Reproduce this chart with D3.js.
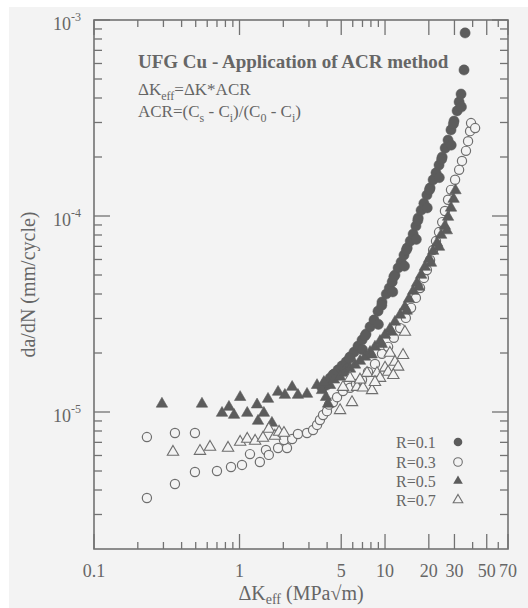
<!DOCTYPE html>
<html><head><meta charset="utf-8">
<script src="https://cdn.jsdelivr.net/npm/d3@7"></script>
<style>html,body{margin:0;padding:0;background:#fff;} svg{display:block}</style>
</head><body><svg id="c" width="528" height="608"></svg>
<script>
// ---------- DATA ----------
const r01K = [3.69,3.93,4.19,4.46,4.75,5.06,5.40,5.75,6.12,6.52,6.95,7.40,7.89,8.40,8.95,9.53,10.2,10.7,11.2,11.7,12.3,12.9,13.5,14.2,14.9,15.6,16.3,16.9,17.7,18.5,19.4,20.4,21.4,22.4,23.5,24.7,25.9,27.1,28.4,29.8,31.3,32.3,33.3,34.9,35.5,
  3.95,4.4,5.5,5.7,7.0,7.3,9.0,9.5,11.3,11.5,13.6,14.0,16.4,16.8,19.5,20.2,23.6,24.5,28.5,29.5,33.5];
const r01da = [1.33e-5,1.41e-5,1.49e-5,1.56e-5,1.64e-5,1.72e-5,1.80e-5,1.91e-5,2.02e-5,2.17e-5,2.33e-5,2.50e-5,2.72e-5,2.95e-5,3.27e-5,3.64e-5,4.0e-5,4.29e-5,4.61e-5,5.0e-5,5.43e-5,5.82e-5,6.32e-5,6.87e-5,7.45e-5,8.09e-5,8.89e-5,9.77e-5,1.07e-4,1.16e-4,1.28e-4,1.39e-4,1.53e-4,1.66e-4,1.82e-4,2.0e-4,2.22e-4,2.44e-4,2.75e-4,3.05e-4,3.44e-4,3.82e-4,4.19e-4,5.56e-4,8.59e-4,
  1.37e-5,1.55e-5,1.66e-5,1.88e-5,2.08e-5,2.45e-5,2.8e-5,3.5e-5,4.1e-5,4.9e-5,5.55e-5,6.7e-5,7.6e-5,9.5e-5,1.1e-4,1.36e-4,1.57e-4,1.95e-4,2.3e-4,2.95e-4,3.6e-4];

const r03K = [0.231,0.360,0.494,0.231,0.360,0.494,0.700,0.874,1.04,1.18,1.38,1.52,1.59,1.84,2.12,2.02,2.30,2.52,2.91,3.20,3.41,3.57,3.75,3.99,4.12,4.39,4.68,5.14,5.75,6.32,6.95,7.64,8.53,9.53,10.5,11.5,12.7,13.9,15.1,16.3,17.4,18.5,19.4,20.4,21.4,22.4,23.5,24.7,25.8,27.1,28.4,30.3,32.3,33.8,36.0,37.2,38.4,39.0,41.6];
const r03da = [7.45e-6,7.81e-6,7.81e-6,3.64e-6,4.29e-6,4.94e-6,5.0e-6,5.24e-6,5.37e-6,6.10e-6,5.56e-6,6.40e-6,6.04e-6,6.55e-6,6.55e-6,7.20e-6,7.28e-6,7.72e-6,7.81e-6,8.09e-6,8.59e-6,9.10e-6,9.65e-6,1.01e-5,1.09e-5,1.12e-5,1.19e-5,1.28e-5,1.33e-5,1.39e-5,1.46e-5,1.60e-5,1.76e-5,1.98e-5,2.15e-5,2.39e-5,2.68e-5,3.02e-5,3.40e-5,3.82e-5,4.29e-5,4.83e-5,5.30e-5,5.97e-5,6.71e-5,7.45e-5,8.28e-5,9.31e-5,1.06e-4,1.21e-4,1.36e-4,1.53e-4,1.72e-4,1.91e-4,2.15e-4,2.41e-4,2.71e-4,2.98e-4,2.81e-4];

const r05K = [0.293,0.552,0.758,0.846,0.917,1.01,1.13,1.32,1.34,1.47,1.57,1.67,1.84,2.05,2.30,2.52,2.91,3.41,3.69,3.93,4.06,4.19,4.46,3.80,
  4.91,5.31,5.75,6.22,6.73,7.29,7.89,8.53,9.24,10.0,10.8,11.7,12.7,13.7,14.6,15.6,16.6,17.7,18.8,20.1,21.4,22.8,24.3,25.8,27.1,28.4,
  11.1,14.1,17.1,20.7,23.5,26.6,8.1,9.5,29.6,30.5];
const r05da = [1.10e-5,1.10e-5,9.88e-6,1.06e-5,9.65e-6,1.19e-5,9.88e-6,1.09e-5,9.0e-6,9.88e-6,1.165e-5,8.79e-6,1.265e-5,1.22e-5,1.34e-5,1.22e-5,1.235e-5,1.37e-5,1.29e-5,1.19e-5,1.10e-5,1.37e-5,1.46e-5,1.42e-5,
  1.51e-5,1.58e-5,1.66e-5,1.74e-5,1.82e-5,1.91e-5,2.02e-5,2.15e-5,2.30e-5,2.47e-5,2.65e-5,2.88e-5,3.13e-5,3.43e-5,3.77e-5,4.14e-5,4.55e-5,5.0e-5,5.49e-5,6.04e-5,6.63e-5,7.28e-5,8.0e-5,8.89e-5,9.88e-5,1.10e-4,
  2.56e-5,3.28e-5,4.34e-5,5.76e-5,6.95e-5,8.43e-5,1.96e-5,2.22e-5,1.22e-4,1.35e-4];

const r07K = [0.349,0.535,0.627,0.834,1.01,1.13,1.28,1.45,1.59,1.75,1.87,2.02,5.14,4.91,5.93,5.75,6.42,7.06,7.52,8.14,8.81,9.24,10.0,10.8,11.7,12.3,13.3,13.7,6.73,10.5,11.4,8.53];
const r07da = [6.25e-6,6.32e-6,6.63e-6,6.55e-6,7.03e-6,7.28e-6,7.11e-6,7.37e-6,8.19e-6,7.54e-6,7.91e-6,7.81e-6,1.34e-5,1.02e-5,1.12e-5,1.49e-5,1.34e-5,1.33e-5,1.58e-5,1.29e-5,1.58e-5,1.49e-5,1.68e-5,2.0e-5,1.80e-5,1.70e-5,1.95e-5,2.56e-5,1.46e-5,1.60e-5,1.54e-5,1.42e-5];

const legendLabels = ["R=0.1","R=0.3","R=0.5","R=0.7"];
const xTickVals = [0.1,1,5,10,20,30,50,70];
const xTickLabels = ["0.1","1","5","10","20","30","50","70"];
const xMinorVals = [0.2,0.3,0.4,0.5,0.6,0.7,0.8,0.9,2,3,4,6,7,8,9,40,60];
const yTickVals = [1e-5,1e-4,1e-3];
const yTickExps = ["-5","-4","-3"];
const yMinorVals = [3e-6,4e-6,5e-6,6e-6,7e-6,8e-6,9e-6,2e-5,3e-5,4e-5,5e-5,6e-5,7e-5,8e-5,9e-5,2e-4,3e-4,4e-4,5e-4,6e-4,7e-4,8e-4,9e-4];

// ---------- CHART ----------
const W = 528, H = 608;
const L = 94, R = 508, T = 20, B = 549;
const FONT = '"Liberation Serif","Times New Roman",serif';
const TXT = "#666", AX = "#727272", DARK = "#5c5c5c", BG = "#f3f3f3";

const svg = d3.select("#c");
svg.append("rect").attr("x",9).attr("y",7).attr("width",W-9).attr("height",H-7).attr("fill",BG);

const x = d3.scaleLog().domain([0.1,70]).range([L,R]);
const y = d3.scaleLog().domain([2e-6,1e-3]).range([B,T]);

const g = svg.append("g");
const tk = g.append("g").attr("stroke",AX).attr("stroke-width",1.3);
function xt(v,len){
  tk.append("line").attr("x1",x(v)).attr("x2",x(v)).attr("y1",B).attr("y2",B-len);
  tk.append("line").attr("x1",x(v)).attr("x2",x(v)).attr("y1",T).attr("y2",T+len);
}
function yt(v,len){
  tk.append("line").attr("y1",y(v)).attr("y2",y(v)).attr("x1",L).attr("x2",L+len);
  tk.append("line").attr("y1",y(v)).attr("y2",y(v)).attr("x1",R).attr("x2",R-len);
}
xTickVals.forEach(v=>xt(v,15));
xMinorVals.forEach(v=>xt(v,7));
yTickVals.forEach(v=>yt(v,16));
yMinorVals.forEach(v=>yt(v,8));

g.append("rect").attr("x",L).attr("y",T).attr("width",R-L).attr("height",B-T)
  .attr("fill","none").attr("stroke",AX).attr("stroke-width",1.6);

g.append("g").selectAll("text").data(xTickVals).join("text")
  .attr("x",d=>x(d)).attr("y",577).attr("text-anchor","middle")
  .attr("font-family",FONT).attr("font-size",18).attr("fill",TXT)
  .text((d,i)=>xTickLabels[i]);

yTickVals.forEach((v,i)=>{
  const t = g.append("text").attr("x",53).attr("y",y(v)+10)
    .attr("font-family",FONT).attr("font-size",18).attr("fill",TXT);
  t.append("tspan").text("10");
  t.append("tspan").attr("dy",-9).attr("font-size",12).text(yTickExps[i]);
});

const xl = g.append("text").attr("x",(L+R)/2).attr("y",600).attr("text-anchor","middle")
  .attr("font-family",FONT).attr("font-size",20).attr("fill",TXT);
xl.append("tspan").text("ΔK");
xl.append("tspan").attr("dy",4).attr("font-size",14).text("eff");
xl.append("tspan").attr("dy",-4).text(" (MPa√m)");

g.append("text").attr("transform",`translate(35,${(T+B)/2}) rotate(-90)`)
  .attr("text-anchor","middle").attr("font-family",FONT).attr("font-size",20).attr("fill",TXT)
  .text("da/dN (mm/cycle)");

g.append("text").attr("x",138).attr("y",68).attr("font-family",FONT).attr("font-size",19)
  .attr("font-weight","bold").attr("fill",TXT).text("UFG Cu - Application of ACR method");
const a1 = g.append("text").attr("x",138).attr("y",95).attr("font-family",FONT).attr("font-size",17).attr("fill",TXT);
a1.append("tspan").text("ΔK");
a1.append("tspan").attr("dy",5).attr("font-size",12).text("eff");
a1.append("tspan").attr("dy",-5).text("=ΔK*ACR");
const a2 = g.append("text").attr("x",138).attr("y",117).attr("font-family",FONT).attr("font-size",17).attr("fill",TXT);
[["ACR=(C",0],["s",1],[" - C",0],["i",1],[")/(C",0],["0",1],[" - C",0],["i",1],[")",0]].forEach((p,i,arr)=>{
  const prevSub = i>0 && arr[i-1][1]===1;
  const ts = a2.append("tspan").text(p[0]);
  if (p[1]===1) ts.attr("dy",5).attr("font-size",12);
  else if (prevSub) ts.attr("dy",-5);
});

const pts = g.append("g");
function circles(K,D,filled,r){
  pts.append("g").selectAll("circle").data(K.map((k,i)=>[k,D[i]])).join("circle")
    .attr("cx",d=>x(d[0])).attr("cy",d=>y(d[1])).attr("r",r)
    .attr("fill",filled?DARK:BG).attr("stroke",filled?DARK:"#6e6e6e").attr("stroke-width",filled?0.5:1.2);
}
const tri = d3.symbol().type(d3.symbolTriangle).size(56);
function triangles(K,D,filled){
  pts.append("g").selectAll("path").data(K.map((k,i)=>[k,D[i]])).join("path")
    .attr("d",tri).attr("transform",d=>`translate(${x(d[0])},${y(d[1])})`)
    .attr("fill",filled?DARK:BG).attr("stroke",filled?DARK:"#6e6e6e").attr("stroke-width",filled?0.6:1.1);
}
circles(r01K,r01da,true,5.1);
circles(r03K,r03da,false,4.6);
triangles(r05K,r05da,true);
triangles(r07K,r07da,false);

const lg = g.append("g");
const lgY = [442,462,481,500];
legendLabels.forEach((s,i)=>{
  lg.append("text").attr("x",396).attr("y",lgY[i]+6).attr("font-family",FONT).attr("font-size",16)
    .attr("fill",TXT).text(s);
});
lg.append("circle").attr("cx",458).attr("cy",lgY[0]).attr("r",4.3).attr("fill",DARK);
lg.append("circle").attr("cx",458).attr("cy",lgY[1]).attr("r",4.3).attr("fill","none").attr("stroke","#6e6e6e").attr("stroke-width",1.1);
lg.append("path").attr("d",d3.symbol().type(d3.symbolTriangle).size(40)).attr("transform",`translate(458,${lgY[2]})`).attr("fill",DARK);
lg.append("path").attr("d",d3.symbol().type(d3.symbolTriangle).size(40)).attr("transform",`translate(458,${lgY[3]})`).attr("fill","none").attr("stroke","#6e6e6e").attr("stroke-width",1.1);
</script></body></html>
